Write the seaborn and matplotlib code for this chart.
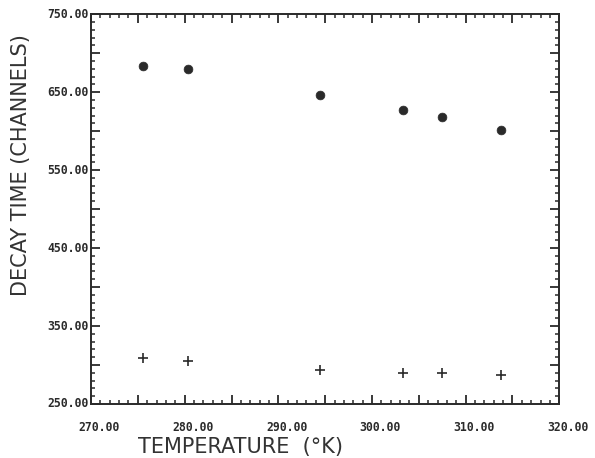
import matplotlib
matplotlib.use("Agg")
import matplotlib.pyplot as plt
import seaborn as sns
import pandas as pd
from matplotlib.ticker import MultipleLocator, NullFormatter

# ---- data ----
temperature = [275.6, 280.4, 294.5, 303.3, 307.5, 313.8]
decay_circle = [683, 680, 646, 627, 618, 601]
decay_cross = [309, 305, 294, 290, 290, 287]
x_ticks = [270, 280, 290, 300, 310, 320]
y_ticks = [250, 350, 450, 550, 650, 750]
x_label = "TEMPERATURE  (°K)"
y_label = "DECAY TIME (CHANNELS)"

df = pd.DataFrame({"T": temperature, "circ": decay_circle, "cross": decay_cross})

sns.set_theme(style="white")
plt.rcParams["font.family"] = ["DejaVu Sans"]

ink = "#2a2a2a"
fig = plt.figure(figsize=(5.95, 4.58), dpi=100)
ax = fig.add_axes([0.153, 0.118, 0.787, 0.851])

sns.scatterplot(data=df, x="T", y="circ", ax=ax, marker="o", s=40,
                color=ink, edgecolor=ink, linewidth=0.5, legend=False)
sns.scatterplot(data=df, x="T", y="cross", ax=ax, marker="+", s=45,
                color=ink, linewidth=1.2, legend=False)

ax.set_xlim(270, 320)
ax.set_ylim(250, 750)
ax.set_xlabel("")
ax.set_ylabel("")

for s in ax.spines.values():
    s.set_visible(True)
    s.set_color(ink)
    s.set_linewidth(1.4)

ax.xaxis.set_major_locator(MultipleLocator(5))
ax.xaxis.set_minor_locator(MultipleLocator(1))
ax.yaxis.set_major_locator(MultipleLocator(50))
ax.yaxis.set_minor_locator(MultipleLocator(10))
ax.xaxis.set_major_formatter(NullFormatter())
ax.yaxis.set_major_formatter(NullFormatter())
ax.tick_params(which="both", direction="in", top=True, right=True,
               bottom=True, left=True, color=ink)
ax.tick_params(which="major", length=6.5, width=1.3)
ax.tick_params(which="minor", length=3, width=1.1)

tick_font = dict(family="DejaVu Sans Mono", fontsize=8.3, fontweight="bold", color=ink)
for xv in x_ticks:
    ax.annotate(f"{xv:.2f}", xy=(xv, 0), xycoords=("data", "axes fraction"),
                xytext=(6, -17), textcoords="offset points",
                ha="center", va="center", **tick_font)
for yv in y_ticks:
    ax.annotate(f"{yv:.2f}", xy=(0, yv), xycoords=("axes fraction", "data"),
                xytext=(-2, 0), textcoords="offset points",
                ha="right", va="center", **tick_font)

fig.text(0.405, 0.024, x_label, ha="center", va="center", fontsize=15,
         color="#333333")
fig.text(0.036, 0.64, y_label, ha="center", va="center", rotation=90,
         fontsize=15, color="#333333")

fig.savefig("out.png", dpi=100, facecolor="white")
